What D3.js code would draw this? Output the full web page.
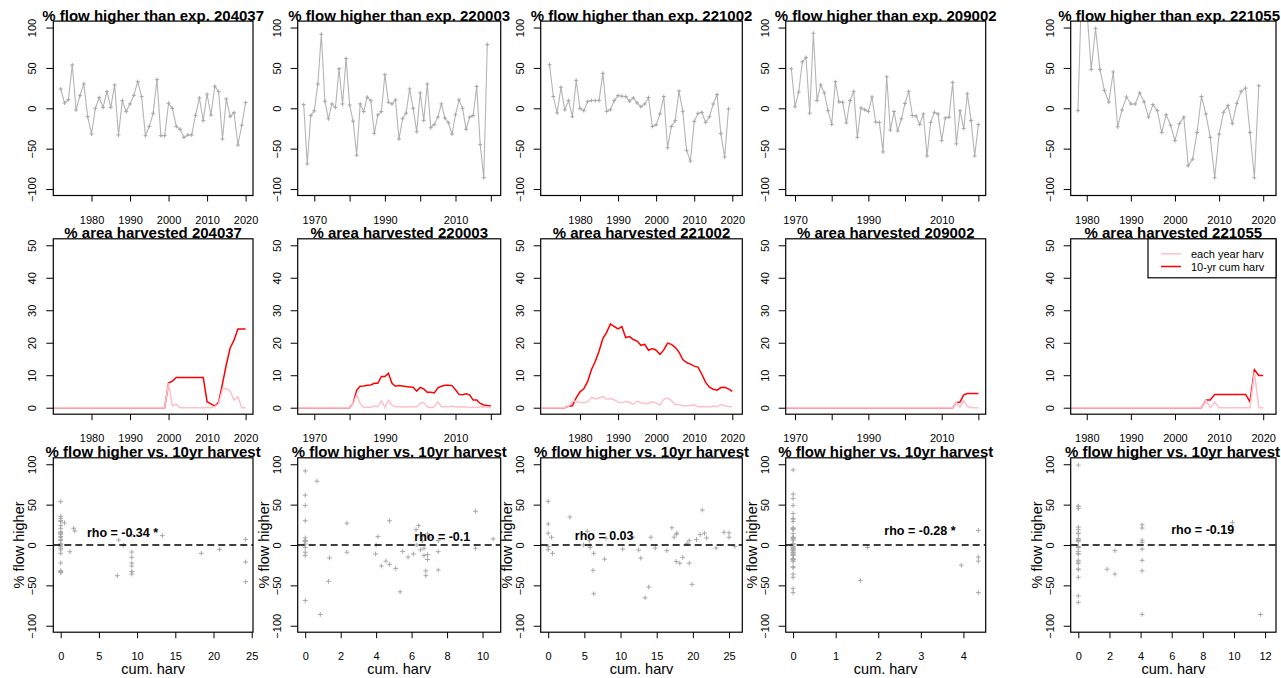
<!DOCTYPE html>
<html><head><meta charset="utf-8">
<script src="https://cdnjs.cloudflare.com/ajax/libs/d3/7.8.5/d3.min.js"></script>
<style>
body{margin:0;background:#fff;}
svg text{font-family:"Liberation Sans",Arial,Helvetica,sans-serif;fill:#000;}
</style></head>
<body><svg id="c" width="1281" height="678"></svg>
<script>
// ---------------- DATA ----------------
const stations = ["204037","220003","221002","209002","221055"];
const flowStart = [1972, 1967, 1972, 1969, 1978];
const flow204037 = [24,6.6,10.7,53.7,-2,15.7,30.2,-10.3,-31.8,0,13.2,1.2,20.7,1.2,28.9,-33,9.5,-4.1,5.4,16.1,33,14.5,-33.9,-22.3,-6.2,35.5,-33.9,-33.9,6.2,0,-22.3,-26,-36,-33,-33,-8.7,12.8,-15.3,17.4,-8.3,27.3,20.7,-38,11.6,-10.3,-5.4,-45.5,-21,7];
const flow220003 = [4.6,-68.8,-9,-3,30,91.7,8.8,-13,5.4,1.2,49,5.4,61.7,4.2,-16,-58,5.4,-4,13.8,9.6,-31,-8.3,-4,41.7,7.5,5.4,10.4,-38,-13,-6,24,0,-29,19,-15,30,-24,-20,-11,5.4,-12,-18,-32,-8,10.4,0,-26,-11,-9,27,-45,-86,79];
const flow221002 = [54,14.6,-5.8,26,-1.7,9.6,-10.4,34.6,0,-2.9,8.3,9.6,9.6,9.6,43.3,-3.8,-1.7,9.6,15.8,15,14.6,8.8,12.9,6.7,2,5.4,13.3,-22.5,-20.4,-7,14.6,-48.8,-22.5,-15.4,21.3,-3.8,-52,-65.4,-16.3,-6.3,-5,-17.5,-10.4,5.4,17,-31.3,-60.4,-0.8];
const flow209002 = [49,2,20,57.5,63,-6,93,9.6,29,19,-3,-20,33,8,7.5,-18,9.6,21,-36,0.4,-1.7,-4,14,-17,-17.5,-54,39,-27,-4,-28,-13,6,21,-9,-9.6,-20,-7,-59,-17.5,-5,-7,-40,-12,-11,32,-44,-3,-25,18,-15,-59,-20];
const flow221055 = [-3,180,125,48,99,48,22,7.5,45,-23,-2,14,5.4,5.4,19,8,-11,4.6,-3,-30,-8,-21,-40,-19,-11,-71,-63,-30,14.6,-7,-36,-86,-32,-5,3.3,-19,6,21,25,-30,-86,28];

const harvStart = [1970, 1965, 1970, 1967, 1976];
const eachYear204037 = [0,0,0,0,0,0,0,0,0,0, 0,0,0,0,0,0,0,0,0,0, 0,0,0,0,0,0,0,0,0,0, 7.6,0.6,1.1,0,0,0,0,0,0,0, 0.15,0,0.35,1.2,5.7,5.9,5.1,2.4,3.4,0, 0];
const cum10yr204037 = [0,0,0,0,0,0,0,0,0,0, 0,0,0,0,0,0,0,0,0,0, 0,0,0,0,0,0,0,0,0,0, 7.6,8.2,9.3,9.3,9.3,9.3,9.3,9.3,9.3,9.3, 1.85,1.2,0.5,1.7,7.4,13.3,18.4,20.8,24.2,24.2, 24.2];
const eachYear220003 = [0,0,0,0,0,0,0,0,0,0,0,0,0,0,0,0, 1.37,4.0,1.2,0.1,0.2,0.1,0.5,0.3,2.1,0.1, 2.3,0.8,0.3,0.4,0.2,0.2,0.3,0.3,0.3,1.4, 1.6,0.2,0.1,0.3,1.8,0.3,0.4,0.3,0.5,0.2, 0.2,0.3,0.2,0.1,0.2,0.1,0.2,0.3,0.1,0];
const cum10yr220003 = [0,0,0,0,0,0,0,0,0,0,0,0,0,0,0,0, 1.37,5.35,6.6,6.7,6.9,7.0,7.5,7.5,9.6,9.6, 10.6,7.5,6.6,6.8,6.7,6.5,6.4,6.3,5.1,6.25, 5.8,4.75,4.75,4.55,6.1,6.6,6.9,6.9,6.8,5.5, 4.1,4.0,4.3,3.97,2.35,2.35,1.31,0.85,0.66,0.6];
const eachYear221002 = [0,0,0,0,0,0,0, 0.4,2.0,2.0,1.6,1.5,1.8,3.2,2.7,3.0,3.5, 2.6,2.8,2.4,1.8,1.5,2.0,1.6,1.0,2.0,1.5, 1.2,1.4,1.8,1.5,0.8,2.6,3.0,2.2,1.0,1.0, 0.6,0.6,0.7,0.9,0.3,0.4,0.3,0.2,0.5,0.3, 1.0,0.6,0.4,0.3];
const cum10yr221002 = [0,0,0,0,0,0,0, 0.46,0.6,3.0,4.9,5.8,8.0,11.7,14.2,17.4,21.3, 23.2,25.8,25.0,24.3,25.0,21.6,21.9,21.0,20.5,19.2, 19.5,17.7,18.2,17.7,16.4,17.8,19.9,19.5,18.6,17.1, 14.8,13.9,13.4,12.8,12.5,10.3,7.8,6.3,5.7,5.4, 6.2,6.3,5.8,5.0];
const eachYear209002 = [0,0,0,0,0,0,0,0,0,0, 0,0,0,0,0,0,0,0,0,0, 0,0,0,0,0,0,0,0,0,0, 0,0,0,0,0,0,0,0,0,0, 0,0,0,0,0,0,0, 1.58,0.17,2.2,0.4,0,0,0];
const cum10yr209002 = [0,0,0,0,0,0,0,0,0,0, 0,0,0,0,0,0,0,0,0,0, 0,0,0,0,0,0,0,0,0,0, 0,0,0,0,0,0,0,0,0,0, 0,0,0,0,0,0,0, 1.58,1.75,3.95,4.35,4.35,4.35,4.35];
const eachYear221055 = [0,0,0,0,0,0,0,0,0,0, 0,0,0,0,0,0,0,0,0,0, 0,0,0,0,0,0,0,0,0,0, 0, 2.35,0,1.75,0,0,0,0,0,0,0, 0,11.0,0,0];
const cum10yr221055 = [0,0,0,0,0,0,0,0,0,0, 0,0,0,0,0,0,0,0,0,0, 0,0,0,0,0,0,0,0,0,0, 0, 2.35,2.35,4.1,4.1,4.1,4.1,4.1,4.1,4.1,4.1, 1.85,11.7,9.9,9.9];

const yearTicks = [
  [1980,1990,2000,2010,2020],
  [1970,1980,1990,2000,2010,2020],
  [1980,1990,2000,2010,2020],
  [1970,1980,1990,2000,2010,2020],
  [1980,1990,2000,2010,2020]];
const yearTickLabels = [
  ["1980","1990","2000","2010","2020"],
  ["1970","","1990","","2010",""],
  ["1980","1990","2000","2010","2020"],
  ["1970","","1990","","2010",""],
  ["1980","1990","2000","2010","2020"]];
const harvTicks = [[0,5,10,15,20,25],[0,2,4,6,8,10],[0,5,10,15,20,25],[0,1,2,3,4],[0,2,4,6,8,10,12]];
const flowTicks = [-100,-50,0,50,100];
const areaTicks = [0,10,20,30,40,50];
const rhoLabels = ["rho = -0.34 *","rho = -0.1","rho = 0.03","rho = -0.28 *","rho = -0.19"];
const legendLabels = ["each year harv","10-yr cum harv"];
const titleFlow = "% flow higher than exp. ";
const titleArea = "% area harvested ";
const titleScatter = "% flow higher vs. 10yr harvest";
const yLabScatter = "% flow higher";
const xLabScatter = "cum. harv";

// ---------------- LAYOUT ----------------
const flowSeries = [flow204037, flow220003, flow221002, flow209002, flow221055];
const eachSeries = [eachYear204037, eachYear220003, eachYear221002, eachYear209002, eachYear221055];
const cumSeries = [cum10yr204037, cum10yr220003, cum10yr221002, cum10yr209002, cum10yr221055];
const colX = [[53.3,253],[297.7,500.7],[540.7,742.3],[785.7,985.7],[1070.7,1276]];
const rowY = [[21.1,195.5],[238.8,414.2],[457.8,632.2]];
const yearDomain = [[1970.08,2021.92],[1965.3,2022.8],[1969.68,2022.63],[1967.46,2022.0],[1976.36,2022.9]];
const scatterDomain = [null,null,null,null,[-0.49,12.7]];
const rhoPos = [[8.09,9.5],[7.73,5],[7.74,6.2],[2.98,12.4],[7.99,13.6]];
const GRAY = "#b4b4b4";
const FONT = '"Liberation Sans",Arial,Helvetica,sans-serif';
const W = 1281;

const svg = d3.select("#c");
const defs = svg.append("defs");
let clipId = 0;

function plus(x, y, r){ return `M${x-r},${y}H${x+r}M${x},${y-r}V${y+r}`; }

function panel(col, row, xScale, yScale, xTicks, xLabels, yTicks, title){
  const [x0,x1] = colX[col], [y0,y1] = rowY[row];
  const g = svg.append("g");
  const id = "clip"+(clipId++);
  defs.append("clipPath").attr("id", id).append("rect")
    .attr("x", x0).attr("y", y0).attr("width", x1-x0).attr("height", y1-y0);
  const inner = g.append("g").attr("clip-path", `url(#${id})`);
  const ax = g.append("g").attr("transform", `translate(0,${y1})`)
    .call(d3.axisBottom(xScale).tickValues(xTicks).tickSize(6).tickFormat((d,j)=>xLabels[j]));
  ax.attr("fill","#000").attr("font-family",FONT).attr("font-size",11);
  ax.select(".domain").remove();
  ax.selectAll("line").attr("stroke","#000");
  ax.selectAll("text").attr("y", 28).attr("dy", 0).style("fill","#000");
  const ay = g.append("g").attr("transform", `translate(${x0},0)`)
    .call(d3.axisLeft(yScale).tickValues(yTicks).tickSize(7));
  ay.attr("fill","#000").attr("font-family",FONT).attr("font-size",11);
  ay.select(".domain").remove();
  ay.selectAll("line").attr("stroke","#000");
  ay.selectAll("text").attr("transform","rotate(-90)").attr("x",0).attr("y",-17).attr("dy",0)
    .attr("text-anchor","middle").style("fill","#000");
  const t = g.append("text").attr("x",(x0+x1)/2).attr("y", y0-0.5).attr("text-anchor","middle")
    .attr("font-size",15).attr("font-weight","bold").text(title);
  const tw = t.node().getComputedTextLength();
  if ((x0+x1)/2 + tw/2 > W - 1) t.attr("x", W - 1 - tw/2);
  return {g, inner, box:()=>g.append("rect").attr("x",x0).attr("y",y0).attr("width",x1-x0).attr("height",y1-y0)
    .attr("fill","none").attr("stroke","#000").attr("stroke-width",1.2)};
}

const yFlow = d3.scaleLinear().domain([-108,108]).range([rowY[0][1], rowY[0][0]]);
const yArea = d3.scaleLinear().domain([-2,52]).range([rowY[1][1], rowY[1][0]]);
const yScat = d3.scaleLinear().domain([-108,108]).range([rowY[2][1], rowY[2][0]]);

stations.forEach((st, i) => {
  const xYear = d3.scaleLinear().domain(yearDomain[i]).range(colX[i]);
  const flowData = flowSeries[i].map((v,k)=>({year: flowStart[i]+k, v}));
  const eachData = eachSeries[i].map((v,k)=>({year: harvStart[i]+k, v}));
  const cumData = cumSeries[i].map((v,k)=>({year: harvStart[i]+k, v}));

  // Row 1: flow time series
  const p1 = panel(i, 0, xYear, yFlow, yearTicks[i], yearTickLabels[i], flowTicks, titleFlow + st);
  p1.inner.append("path").datum(flowData)
    .attr("d", d3.line().x(d=>xYear(d.year)).y(d=>yFlow(d.v)))
    .attr("fill","none").attr("stroke",GRAY).attr("stroke-width",1.1);
  p1.inner.append("path")
    .attr("d", flowData.map(d=>plus(xYear(d.year), yFlow(d.v), 2)).join(""))
    .attr("stroke","#a8a8a8").attr("stroke-width",1);
  p1.box();

  // Row 2: area harvested
  const p2 = panel(i, 1, xYear, yArea, yearTicks[i], yearTickLabels[i], areaTicks, titleArea + st);
  p2.inner.append("path").datum(cumData)
    .attr("d", d3.line().x(d=>xYear(d.year)).y(d=>yArea(d.v)))
    .attr("fill","none").attr("stroke","#ff0000").attr("stroke-width",1.5);
  p2.inner.append("path").datum(eachData)
    .attr("d", d3.line().x(d=>xYear(d.year)).y(d=>yArea(d.v)))
    .attr("fill","none").attr("stroke","#ffc0cb").attr("stroke-width",1.5);
  p2.box();

  // Row 3: scatter flow vs cumulative harvest
  const pts = flowData.map(d=>({c: cumSeries[i][d.year - harvStart[i]], v: d.v}));
  let dom = scatterDomain[i];
  if (!dom) {
    const ext = d3.extent(pts, d=>d.c);
    const pad = (ext[1]-ext[0])*0.04;
    dom = [ext[0]-pad, ext[1]+pad];
  }
  const xH = d3.scaleLinear().domain(dom).range(colX[i]);
  const p3 = panel(i, 2, xH, yScat, harvTicks[i], harvTicks[i].map(String), flowTicks, titleScatter);
  p3.inner.append("path")
    .attr("d", pts.map(d=>plus(xH(d.c), yScat(d.v), 2.4)).join(""))
    .attr("stroke","#a8a8a8").attr("stroke-width",1);
  p3.inner.append("line").attr("x1",colX[i][0]).attr("x2",colX[i][1])
    .attr("y1",yScat(0)).attr("y2",yScat(0))
    .attr("stroke","#000").attr("stroke-width",1.4).attr("stroke-dasharray","7,4");
  p3.g.append("text").attr("x", xH(rhoPos[i][0])).attr("y", yScat(rhoPos[i][1]))
    .attr("text-anchor","middle").attr("font-size",12.5).attr("font-weight","bold").text(rhoLabels[i]);
  p3.box();
  p3.g.append("text").attr("x",(colX[i][0]+colX[i][1])/2).attr("y",674)
    .attr("text-anchor","middle").attr("font-size",14.5).text(xLabScatter);
  const cy = (rowY[2][0]+rowY[2][1])/2;
  p3.g.append("text").attr("transform",`translate(${colX[i][0]-29},${cy}) rotate(-90)`)
    .attr("text-anchor","middle").attr("font-size",14.5).text(yLabScatter);
});

// Legend (top-right of last area panel)
const lx1 = colX[4][1], lx0 = lx1 - 128, ly0 = rowY[1][0], ly1 = ly0 + 39;
const lg = svg.append("g");
lg.append("rect").attr("x",lx0).attr("y",ly0).attr("width",lx1-lx0).attr("height",ly1-ly0)
  .attr("fill","#fff").attr("stroke","#000").attr("stroke-width",1.2);
const legColors = ["#ffc0cb","#ff0000"];
legendLabels.forEach((t,k)=>{
  const yy = ly0 + 15 + k*12.7;
  lg.append("line").attr("x1",lx0+13).attr("x2",lx0+33).attr("y1",yy).attr("y2",yy)
    .attr("stroke",legColors[k]).attr("stroke-width",1.5);
  lg.append("text").attr("x",lx0+43).attr("y",yy+4).attr("font-size",11).text(t);
});
</script>
</body></html>
